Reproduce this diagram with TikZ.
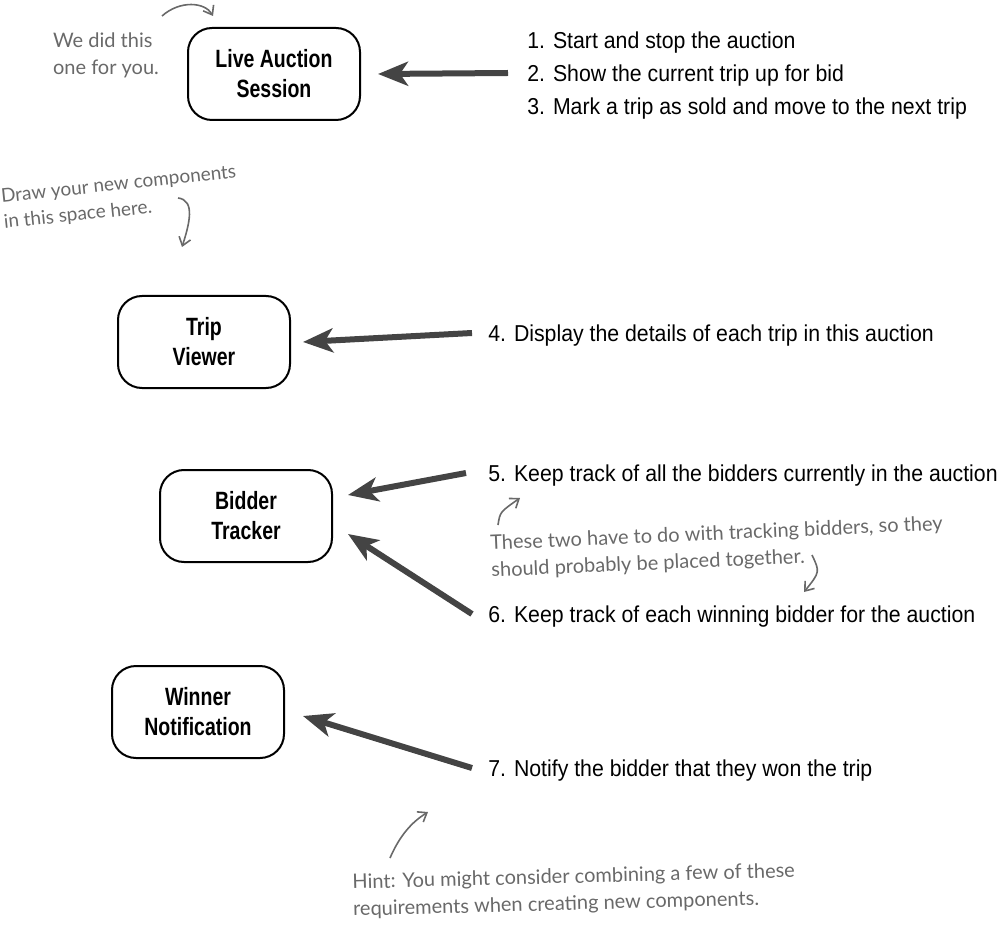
\documentclass[tikz,border=0pt]{standalone}
\usepackage{fontspec}
\setmainfont{Liberation Sans}
\newfontfamily\reqfont[FakeStretch=0.925]{Liberation Sans}
\newfontfamily\boxfont[FakeStretch=0.78]{Liberation Sans}
\newfontfamily\notefont{Lato}
\usepackage{tikz}
\usepackage{xcolor}
\usetikzlibrary{arrows.meta, positioning, calc}
\definecolor{cArrow}{RGB}{68,68,68}
\definecolor{cNote}{RGB}{105,105,105}
\tikzset{
	component/.style={rectangle, rounded corners=12pt, draw=black, line width=1pt, minimum width=86pt, minimum height=46pt, align=center, font=\boxfont\bfseries\fontsize{12.5}{15}\selectfont},
	reqtext/.style  ={anchor=west, align=left, inner sep=0pt, font=\reqfont\fontsize{11.5}{16.5}\selectfont},
	note/.style     ={align=left, inner sep=0pt, text=cNote, font=\notefont\fontsize{10}{13.5}\selectfont},
	reqarrow/.style ={-{Stealth[length=15pt, width=12pt, inset=4pt]}, line width=3pt, draw=cArrow, fill=cArrow},
	% hand-drawn pointers of the side notes
	notearrow/.style={-{Straight Barb[length=4pt, width=6pt]}, line width=0.8pt, draw=cNote},
}

\begin{document}
\begin{tikzpicture}[x=0.5pt, y=-0.5pt]
	\useasboundingbox (0,0) rectangle (1000,930);
	\node[component] (live)   at (274,74)  {Live Auction\\Session};
	\node[component] (trip)   at (204,342) {Trip\\Viewer};
	\node[component] (bidder) at (246,516) {Bidder\\Tracker};
	\node[component] (winner) at (198,712) {Winner\\Notification};

	\node[reqtext] (req13) at (527,76)  {1. Start and stop the auction\\2. Show the current trip up for bid\\3. Mark a trip as sold and move to the next trip};
	\node[reqtext] (req4)  at (488,336) {4. Display the details of each trip in this auction};
	\node[reqtext] (req5)  at (488,476) {5. Keep track of all the bidders currently in the auction};
	\node[reqtext] (req6)  at (488,617) {6. Keep track of each winning bidder for the auction};
	\node[reqtext] (req7)  at (488,771) {7. Notify the bidder that they won the trip};

	\draw[reqarrow] ([shift={(-9.5pt,1.5pt)}]req13.west) -- ([xshift=8.5pt]live.east);
	\draw[reqarrow] ([shift={(-8pt,1.5pt)}]req4.west) -- ([xshift=6pt]trip.east);
	\draw[reqarrow] ([shift={(-11pt,1.5pt)}]req5.west) -- ([shift={(7.5pt,10.5pt)}]bidder.east);
	\draw[reqarrow] ([shift={(-8pt,1.5pt)}]req6.west) -- ([shift={(7.5pt,-9pt)}]bidder.east);
	\draw[reqarrow] ([shift={(-8pt,1.5pt)}]req7.west) -- ([shift={(9pt,-2pt)}]winner.east);

	\node[note] (didnote) at (106,55) {We did this\\one for you.};
	\node[note, rotate=6, font=\notefont\fontsize{9.5}{13}\selectfont] (drawnote) at (120,198) {Draw your new components\\in this space here.};
	\node[note, rotate=2.5] (twonote) at (717,548) {These two have to do with tracking bidders, so they\\should probably be placed together.};
	\node[note, rotate=1.5] (hintnote) at (574,891) {Hint: You might consider combining a few of these\\requirements when creating new components.};

	\coordinate (didfrom)  at (162,16);
	\coordinate (drawfrom) at (178,198);
	\coordinate (drawto)   at (182,247);
	\coordinate (twofrom)  at (498,525);
	\coordinate (twoback)  at (812,555);
	\coordinate (twoto)    at (804,592);
	\coordinate (hintfrom) at (390,858);
	\coordinate (hintto)   at (428,812);
	\draw[notearrow] (didfrom) .. controls (180,0) and (205,2) .. ([shift={(13pt,5.5pt)}]live.north west);
	\draw[notearrow] (drawfrom) .. controls (196,200) and (189,225) .. (drawto);
	\draw[notearrow] (twofrom) .. controls (500,512) .. ([shift={(16pt,-11pt)}]req5.west);
	\draw[notearrow] (twoback) .. controls (820,572) .. (twoto);
	\draw[notearrow] (hintfrom) .. controls (400,835) and (412,822) .. (hintto);
\end{tikzpicture}
\end{document}
